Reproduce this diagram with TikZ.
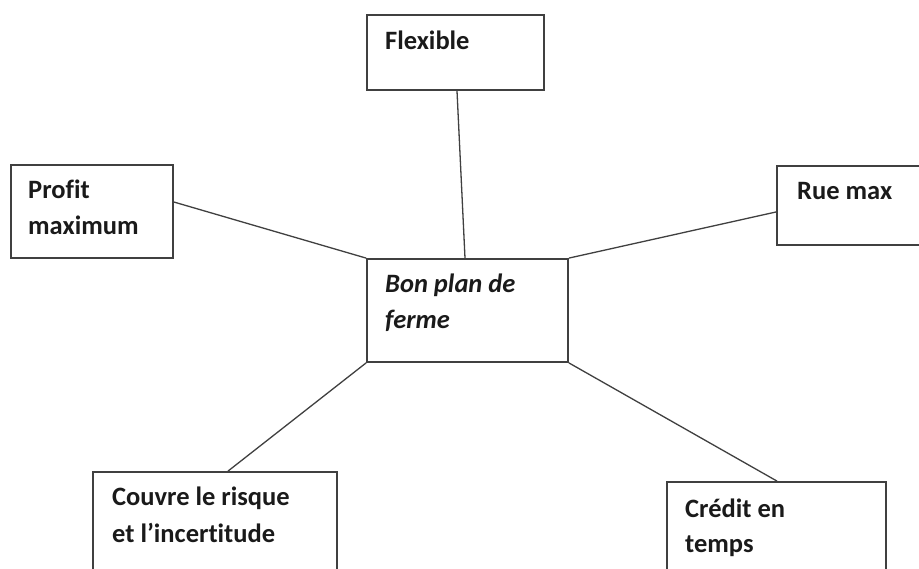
\documentclass[tikz,border=0pt]{standalone}
\usepackage{fontspec}
\setmainfont{Carlito}[Ligatures={NoCommon}]
\usetikzlibrary{calc}
\definecolor{linegray}{HTML}{404040}
\definecolor{txt}{HTML}{1A1A1A}
\begin{document}
\begin{tikzpicture}[x=1pt,y=-1pt,
  box/.style={draw=linegray,line width=1.8pt,fill=white,inner sep=0pt,rectangle},
  lbl/.style={anchor=base west,inner sep=0pt,text=txt,font=\fontsize{26.5}{36}\selectfont\bfseries},
  ilbl/.style={lbl,font=\fontsize{26.5}{36}\selectfont\bfseries\itshape},
  conn/.style={draw=linegray,line width=1.3pt}]
\fill[white] (0,0) rectangle (919,569);
\useasboundingbox (0,0) rectangle (919,569);
% boxes
\node[box,minimum width=177pt,minimum height=75pt] (flex) at (455.5,52.5) {};
\node[box,minimum width=162pt,minimum height=93pt] (profit) at (92,211.5) {};
\node[box,minimum width=160pt,minimum height=79pt] (rue) at (857,205.5) {};
\node[box,minimum width=201pt,minimum height=103pt] (center) at (467.5,310.5) {};
\node[box,minimum width=244pt,minimum height=130pt] (couvre) at (215,537) {};
\node[box,minimum width=219pt,minimum height=120pt] (credit) at (776.5,542) {};
% connectors
\draw[conn] ($(flex.south)+(1.5,0)$) -- ($(center.north)+(-2.5,0)$);
\draw[conn] ($(profit.north east)!0.4!(profit.south east)$) -- (center.north west);
\draw[conn] ($(rue.north west)!0.58!(rue.south west)$) -- (center.north east);
\draw[conn] ($(couvre.north)+(13,0)$) -- (center.south west);
\draw[conn] ($(credit.north)+(0.5,0)$) -- (center.south east);
% texts
\node[lbl] (tflex) at (385,50) {Flexible};
\node[lbl] (tprofitA) at (28,199) {Profit};
\node[lbl] (tprofitB) at (28,235) {maximum};
\node[lbl] (true) at (797,200) {Rue max};
\node[ilbl] (tcenterA) at (385,293) {Bon plan de};
\node[ilbl] (tcenterB) at (385,329) {ferme};
\node[lbl] (tcouvreA) at (112,505) {Couvre le risque};
\node[lbl] (tcouvreB) at (112,542) {et l’incertitude};
\node[lbl] (tcreditA) at (685,517) {Crédit en};
\node[lbl] (tcreditB) at (685,552) {temps};
\end{tikzpicture}
\end{document}
